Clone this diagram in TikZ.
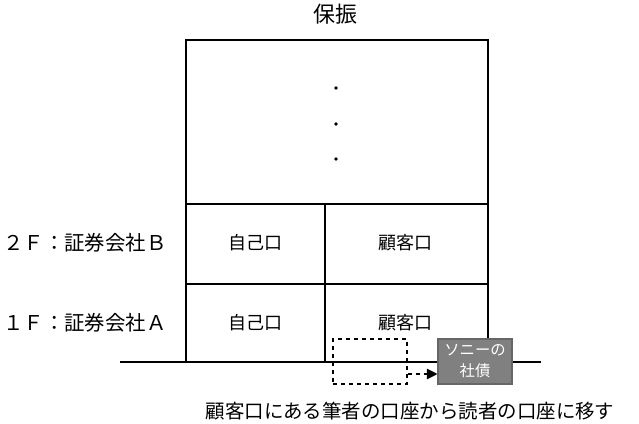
\documentclass[tikz,border=0pt]{standalone}
\usepackage{fontspec}
\setmainfont{Noto Sans CJK JP}
\usetikzlibrary{positioning}
\usetikzlibrary{arrows.meta,shapes}
\usetikzlibrary{calc}

\definecolor{bondgray}{RGB}{128,128,128}

\tikzset{
  lbl/.style={font=\fontsize{13.5}{16}\selectfont, inner sep=0pt},
  titlelbl/.style={font=\fontsize{16.5}{19}\selectfont, inner sep=0pt},
  floorlbl/.style={font=\fontsize{15.3}{18}\selectfont, inner sep=0pt},
  notelbl/.style={font=\fontsize{14.6}{18}\selectfont, inner sep=0pt},
  dotmark/.style={circle, fill=black, inner sep=0pt, minimum size=2.8pt},
  bond/.style={draw=gray!80!black, fill=bondgray, text=white, align=center,
    font=\fontsize{11.5}{15.75}\selectfont, minimum width=55.5pt, minimum height=33.75pt, inner sep=0pt},
  ghost/.style={draw, dashed, minimum width=55.5pt, minimum height=33.75pt, inner sep=0pt}
}

\begin{document}
\begin{tikzpicture}[x=0.75pt, y=-0.75pt, line width=0.8pt]

\useasboundingbox (0,0) rectangle (639,424);

%frame
\draw (186,40) rectangle (488,362);
\draw (186,204) -- (488,204);
\draw (186,284) -- (488,284);
\draw (325,204) -- (325,362);
\draw (120,362) -- (541,362);

%title and dots
\node[titlelbl] (title) at (335.5,14.5) {保振};
\node[dotmark] (d1) at (336,88) {};
\node[dotmark] (d2) at (336,124) {};
\node[dotmark] (d3) at (336,159) {};

%floors
\node[floorlbl] (floorB) at (85,243) {２Ｆ：証券会社Ｂ};
\node[floorlbl] (floorA) at (85,323) {１Ｆ：証券会社Ａ};
\node[lbl] (ownB) at (255,243) {自己口};
\node[lbl] (custB) at (405.5,243) {顧客口};
\node[lbl] (ownA) at (255,323) {自己口};
\node[lbl] (custA) at (405.5,323) {顧客口};

%moving the bond
\node[ghost] (old) at (370,361.5) {};
\node[bond] (sony) at (475,361.5) {ソニーの\\社債};
\draw[dashed, -{Triangle[length=8pt,width=8pt]}] (old.east |- 0,374) -- (sony.west |- 0,374);

\node[notelbl] (note) at (410,411) {顧客口にある筆者の口座から読者の口座に移す};

\end{tikzpicture}
\end{document}
